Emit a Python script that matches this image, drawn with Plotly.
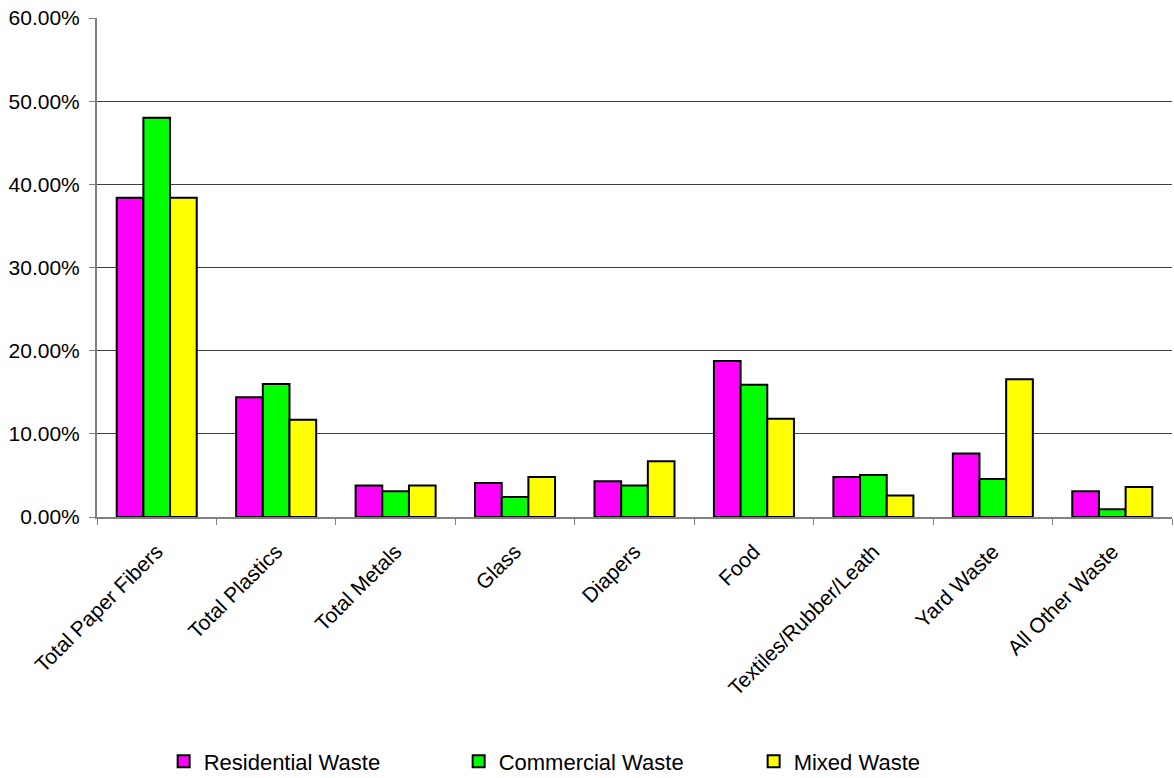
import plotly.graph_objects as go

categories = ["Total Paper Fibers", "Total Plastics", "Total Metals", "Glass", "Diapers",
              "Food", "Textiles/Rubber/Leath", "Yard Waste", "All Other Waste"]
residential = [0.384, 0.144, 0.038, 0.041, 0.043, 0.1875, 0.048, 0.0765, 0.031]
commercial = [0.480, 0.160, 0.031, 0.024, 0.038, 0.159, 0.0505, 0.0457, 0.0092]
mixed = [0.384, 0.117, 0.038, 0.048, 0.067, 0.118, 0.026, 0.1655, 0.036]

series = [("Residential Waste", residential, "#FF00FF"),
          ("Commercial Waste", commercial, "#00FF00"),
          ("Mixed Waste", mixed, "#FFFF00")]

fig = go.Figure()
for name, vals, color in series:
    fig.add_trace(go.Bar(x=categories, y=vals, name=name,
                         marker=dict(color=color, line=dict(color="black", width=2))))

font = "Liberation Sans, Arial, sans-serif"
fig.update_layout(
    width=1174, height=778,
    margin=dict(l=97, r=2, t=18, b=261, autoexpand=False),
    paper_bgcolor="white", plot_bgcolor="white",
    barmode="group", bargap=0.33, bargroupgap=0,
    font=dict(family=font, size=20, color="black"),
    showlegend=True,
    legend=dict(orientation="h", x=0.062, xanchor="left", y=-0.49, yanchor="middle",
                entrywidth=250, entrywidthmode="pixels",
                font=dict(family=font, size=22, color="black")),
)
fig.update_xaxes(type="category", tickangle=-45, tickson="boundaries",
                 ticks="outside", ticklen=6, tickcolor="#808080",
                 showline=True, linecolor="#808080", linewidth=2,
                 showgrid=False, tickfont=dict(family=font, size=21),
                 ticklabelstandoff=12, ticklabeloverflow="allow")
fig.update_yaxes(range=[0, 0.6], dtick=0.1, tickformat=".2%",
                 ticks="outside", ticklen=6, tickcolor="#808080",
                 showline=True, linecolor="#808080", linewidth=2,
                 showgrid=True, gridcolor="#404040", gridwidth=1,
                 zeroline=False, tickfont=dict(family=font, size=21),
                 ticklabelstandoff=5, ticklabeloverflow="allow")

fig.write_html("out.html", config={"displayModeBar": False},
               post_script="document.body.style.margin='0';")
